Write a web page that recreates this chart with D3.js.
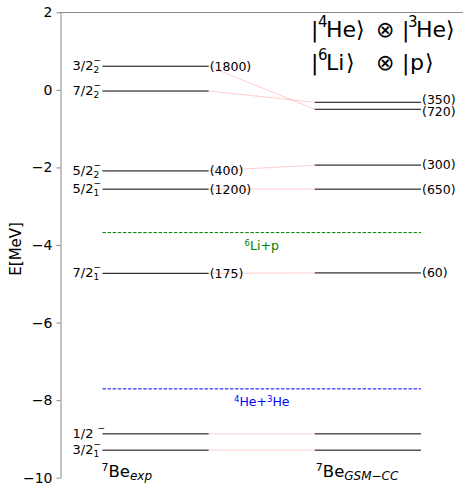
<!DOCTYPE html>
<html>
<head>
<meta charset="utf-8">
<script src="https://cdn.jsdelivr.net/npm/d3@7"></script>
<style>
  body { margin: 0; background: #fff; }
  text { font-family: "DejaVu Sans", sans-serif; }
</style>
</head>
<body>
<svg id="chart" width="463" height="483"></svg>
<script>
// levels of 7Be, experiment vs GSM-CC (MeV), same order in both lists
const spinLabels = ["3/2", "7/2", "5/2", "5/2", "7/2", "1/2", "3/2"];
const spinIndex  = ["2", "2", "2", "1", "1", "", "1"];
const expEnergy  = [0.61, -0.03, -2.09, -2.56, -4.73, -8.87, -9.29];
const expWidth   = ["(1800)", "", "(400)", "(1200)", "(175)", "", ""];
const gsmEnergy  = [-0.50, -0.32, -1.94, -2.56, -4.72, -8.87, -9.29];
const gsmWidth   = ["(720)", "(350)", "(300)", "(650)", "(60)", "", ""];

const thresholds = [
  { name: "6Li+p", e: -3.68, color: "green" },
  { name: "4He+3He", e: -7.71, color: "blue" }
];
const yTicks = [2, 0, -2, -4, -6, -8, -10];

const svg = d3.select("#chart");

const y = d3.scaleLinear().domain([-10, 2]).range([477.7, 12.3]);
const x = d3.scaleLinear().domain([0.6, 4]).range([60, 421]);

// axis + spines
const yAxis = d3.axisLeft(y)
  .tickValues(yTicks)
  .tickSize(4)
  .tickSizeOuter(0)
  .tickPadding(4)
  .tickFormat(d3.format("d"));

const ax = svg.append("g")
  .attr("transform", "translate(60.5,0)")
  .call(yAxis);
ax.select(".domain").attr("stroke", "#888");
ax.selectAll(".tick line").attr("stroke", "#888");
ax.selectAll(".tick text")
  .attr("font-size", 14)
  .attr("font-family", "DejaVu Sans")
  .attr("fill", "#000");

svg.append("line")
  .attr("x1", 60).attr("x2", 463)
  .attr("y1", Math.round(y(2)) + 0.5).attr("y2", Math.round(y(2)) + 0.5)
  .attr("stroke", "#888");

svg.append("text")
  .attr("transform", "translate(16," + y(-4.1) + ") rotate(-90)")
  .attr("text-anchor", "middle")
  .attr("dy", "0.35em")
  .attr("font-size", 15)
  .text("E[MeV]");

// thresholds
thresholds.forEach(t => {
  svg.append("line")
    .attr("x1", x(1)).attr("x2", x(4))
    .attr("y1", y(t.e)).attr("y2", y(t.e))
    .attr("stroke", t.color)
    .attr("stroke-width", 1)
    .attr("stroke-dasharray", "3.5,1.6");
  const parts = t.name.match(/(\d)([A-Za-z]+)\+(\d?)(.*)/);
  const lbl = svg.append("text")
    .attr("x", x(2.5))
    .attr("y", y(t.e) + 17)
    .attr("text-anchor", "middle")
    .attr("font-size", 12.5)
    .attr("fill", t.color);
  lbl.append("tspan").attr("font-size", 8.5).attr("dy", -4).text(parts[1]);
  lbl.append("tspan").attr("dy", 4).text(parts[2] + "+");
  if (parts[3]) {
    lbl.append("tspan").attr("font-size", 8.5).attr("dy", -4).text(parts[3]);
    lbl.append("tspan").attr("dy", 4).text(parts[4]);
  } else {
    lbl.append("tspan").text(parts[4]);
  }
});

// connectors
svg.selectAll(".link")
  .data(expEnergy)
  .join("line")
  .attr("class", "link")
  .attr("x1", x(2)).attr("x2", x(3))
  .attr("y1", d => y(d))
  .attr("y2", (d, i) => y(gsmEnergy[i]))
  .attr("stroke", "red")
  .attr("stroke-opacity", 0.2)
  .attr("stroke-width", 1);

// levels
svg.selectAll(".exp")
  .data(expEnergy)
  .join("line")
  .attr("class", "exp")
  .attr("x1", x(1)).attr("x2", x(2))
  .attr("y1", d => y(d)).attr("y2", d => y(d))
  .attr("stroke", "#000").attr("stroke-width", 1);

svg.selectAll(".gsm")
  .data(gsmEnergy)
  .join("line")
  .attr("class", "gsm")
  .attr("x1", x(3)).attr("x2", x(4))
  .attr("y1", d => y(d)).attr("y2", d => y(d))
  .attr("stroke", "#000").attr("stroke-width", 1);

// spin labels
spinLabels.forEach((s, i) => {
  const ly = y(expEnergy[i]);
  const xe = x(1) - 9;
  svg.append("text")
    .attr("x", xe).attr("y", ly).attr("dy", "0.3em")
    .attr("text-anchor", "end").attr("font-size", 13)
    .text(s);
  if (spinIndex[i]) {
    svg.append("text")
      .attr("x", xe).attr("y", ly + 7)
      .attr("font-size", 9)
      .text(spinIndex[i]);
    svg.append("text")
      .attr("x", xe).attr("y", ly - 3)
      .attr("font-size", 9)
      .text("\u2212");
  } else {
    svg.append("text")
      .attr("x", xe + 4).attr("y", ly - 3)
      .attr("font-size", 9)
      .text("\u2212");
  }
});

// width labels, spread apart where they collide
function widthLabels(energies, widths, xpos) {
  const items = energies.map((e, i) => ({ y: y(e), t: widths[i] }))
    .filter(d => d.t)
    .sort((a, b) => a.y - b.y);
  for (let k = 1; k < items.length; k++) {
    const gap = items[k].y - items[k - 1].y;
    if (gap < 12.5) {
      const push = (12.5 - gap) / 2;
      items[k - 1].y -= push;
      items[k].y += push;
    }
  }
  svg.selectAll(null)
    .data(items)
    .join("text")
    .attr("x", xpos)
    .attr("y", d => d.y)
    .attr("dy", "0.35em")
    .attr("font-size", 12.5)
    .text(d => d.t);
}
widthLabels(expEnergy, expWidth, x(2) + 1);
widthLabels(gsmEnergy, gsmWidth, x(4) + 1);

// column names
function colName(xpos, sub) {
  const t = svg.append("text")
    .attr("x", xpos).attr("y", 477)
    .attr("font-size", 16.5);
  t.append("tspan").attr("font-size", 11).attr("dy", -6).text("7");
  t.append("tspan").attr("dy", 6).text("Be");
  t.append("tspan").attr("font-size", 12).attr("font-style", "italic")
    .attr("dy", 3).text(sub);
}
colName(x(1) - 1, "exp");
colName(x(3) + 1, "GSM\u2212CC");

// channel legend, pieces laid out like the mathtext original
function ket(yb, pieces) {
  const t = svg.append("text")
    .attr("y", yb)
    .attr("font-size", 22);
  pieces.forEach(p => {
    const s = t.append("tspan").attr("x", p.x).attr("y", p.sup ? yb - 10 : yb).text(p.txt);
    if (p.sup) s.attr("font-size", 15);
  });
}
ket(37, [
  { x: 311, txt: "|" }, { x: 318, txt: "4", sup: true }, { x: 326, txt: "He" },
  { x: 356, txt: "\u27E9" }, { x: 376, txt: "\u2297" },
  { x: 402, txt: "|" }, { x: 408, txt: "3", sup: true }, { x: 416, txt: "He" },
  { x: 446, txt: "\u27E9" }
]);
ket(70, [
  { x: 311, txt: "|" }, { x: 318, txt: "6", sup: true }, { x: 326, txt: "Li" },
  { x: 346, txt: "\u27E9" }, { x: 376, txt: "\u2297" },
  { x: 402, txt: "|" }, { x: 410, txt: "p" }, { x: 425, txt: "\u27E9" }
]);
</script>
</body>
</html>
